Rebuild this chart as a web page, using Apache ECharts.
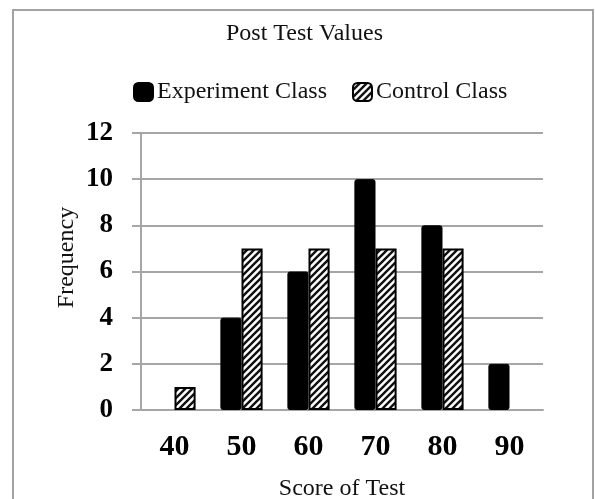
<!DOCTYPE html>
<html>
<head>
<meta charset="utf-8">
<script src="https://cdn.jsdelivr.net/npm/echarts@6/dist/echarts.min.js"></script>
<style>
  body { margin: 0; background: #fff; }
  .frame {
    position: absolute;
    left: 12px;
    top: 9px;
    width: 582px;
    height: 520px;
    border: 2px solid #a3a3a3;
    box-sizing: border-box;
  }
  .chart {
    position: absolute;
    left: 0;
    top: 0;
    width: 595px;
    height: 499px;
  }
</style>
</head>
<body>
<div class="frame"></div>
<div id="chart" class="chart"></div>
<script>
const scores = ['40', '50', '60', '70', '80', '90']
const experiment = [0, 4, 6, 10, 8, 2]
const control = [1, 7, 7, 7, 7, 0]
const yTicks = [0, 2, 4, 6, 8, 10, 12]

// diagonal hatch for the control class
const hatch = document.createElement('canvas')
hatch.width = 7
hatch.height = 7
const ctx = hatch.getContext('2d')
ctx.fillStyle = '#fff'
ctx.fillRect(0, 0, 7, 7)
ctx.strokeStyle = '#111'
ctx.lineWidth = 2.4
ctx.beginPath()
ctx.moveTo(-1, 8); ctx.lineTo(8, -1)
ctx.moveTo(-4, 4); ctx.lineTo(4, -4)
ctx.moveTo(3, 11); ctx.lineTo(11, 3)
ctx.stroke()

const font = '"Liberation Serif", "Times New Roman", serif'
const gray = '#a6a6a6'
const noZero = arr => arr.map(v => (v === 0 ? '-' : v))

const chart = echarts.init(document.getElementById('chart'))
const option = {
  animation: false,
  textStyle: { fontFamily: font, color: '#000' },
  title: {
    text: 'Post Test Values',
    left: 221,
    top: 17,
    textStyle: { fontFamily: font, fontSize: 24, fontWeight: 'normal', color: '#111' }
  },
  legend: {
    top: 75,
    left: 128,
    itemWidth: 19,
    itemHeight: 18,
    itemGap: 25,
    textStyle: { fontFamily: font, fontSize: 24, color: '#111', padding: [0, 0, 0, -1] },
    data: ['Experiment Class', 'Control Class']
  },
  grid: {
    left: 141,
    right: 52,
    top: 133,
    bottom: 89,
    outerBoundsMode: 'none'
  },
  xAxis: {
    type: 'category',
    data: scores,
    name: 'Score of Test',
    nameLocation: 'middle',
    nameGap: 67,
    nameMoveOverlap: false,
    nameTextStyle: { fontFamily: font, fontSize: 24, color: '#111' },
    axisLine: { lineStyle: { color: gray, width: 2 } },
    axisTick: { show: false },
    axisLabel: {
      margin: 22,
      fontFamily: font,
      fontSize: 30,
      fontWeight: 'bold',
      color: '#000'
    }
  },
  yAxis: {
    type: 'value',
    min: yTicks[0],
    max: yTicks[yTicks.length - 1],
    interval: 2,
    name: 'Frequency',
    nameLocation: 'middle',
    nameGap: 62,
    nameMoveOverlap: false,
    nameTextStyle: { fontFamily: font, fontSize: 24, color: '#111', padding: [0, 0, 0, 28] },
    axisLine: { show: true, lineStyle: { color: gray, width: 2 } },
    axisTick: { show: true, length: 9, lineStyle: { color: gray, width: 2 } },
    splitLine: { lineStyle: { color: gray, width: 2 } },
    axisLabel: {
      margin: 28,
      fontFamily: font,
      fontSize: 27,
      fontWeight: 'bold',
      color: '#000'
    }
  },
  series: [
    {
      name: 'Experiment Class',
      type: 'bar',
      data: noZero(experiment),
      barGap: '0%',
      barCategoryGap: '37%',
      itemStyle: {
        color: '#000',
        borderColor: '#000',
        borderWidth: 1,
        borderRadius: 2
      }
    },
    {
      name: 'Control Class',
      type: 'bar',
      data: noZero(control),
      itemStyle: {
        color: { image: hatch, repeat: 'repeat' },
        borderColor: '#000',
        borderWidth: 2
      }
    }
  ]
}
chart.setOption(option, true)
</script>
</body>
</html>
